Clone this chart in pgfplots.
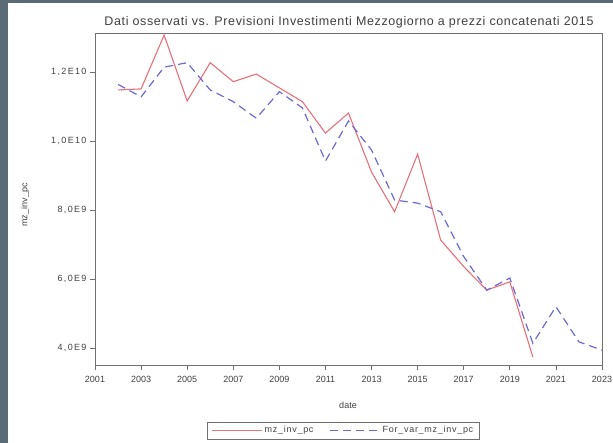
\documentclass[border=0pt]{standalone}
\usepackage{fontspec}
\setmainfont{Liberation Sans}
\usepackage{pgfplots}
\usepackage{pgfplotstable}
\pgfplotsset{compat=1.18}

\definecolor{frame}{HTML}{5B6B75}
\definecolor{obsred}{HTML}{E8707A}
\definecolor{fcblue}{HTML}{6A6AD2}
\definecolor{axgray}{HTML}{707070}
\definecolor{txtgray}{HTML}{404040}

% observed series
\pgfplotstableread{
year val
2002 1.148e10
2003 1.151e10
2004 1.307e10
2005 1.116e10
2006 1.227e10
2007 1.172e10
2008 1.194e10
2009 1.154e10
2010 1.114e10
2011 1.023e10
2012 1.081e10
2013 0.910e10
2014 0.795e10
2015 0.962e10
2016 0.713e10
2017 0.636e10
2018 0.568e10
2019 0.592e10
2020 0.374e10
}\observed

% forecast series
\pgfplotstableread{
year val
2002 1.164e10
2003 1.128e10
2004 1.214e10
2005 1.227e10
2006 1.148e10
2007 1.114e10
2008 1.066e10
2009 1.143e10
2010 1.096e10
2011 0.942e10
2012 1.058e10
2013 0.974e10
2014 0.829e10
2015 0.820e10
2016 0.795e10
2017 0.665e10
2018 0.568e10
2019 0.603e10
2020 0.414e10
2021 0.520e10
2022 0.418e10
2023 0.394e10
}\forecast

\begin{document}
\begin{tikzpicture}
\fill[frame] (0,0) rectangle (613pt,443pt);
\fill[white] (8pt,0) rectangle (613pt,440pt);

\begin{axis}[
    at={(95pt,78pt)}, anchor=south west,
    width=507pt, height=332pt, scale only axis,
    xmin=2001, xmax=2023, ymin=3.51e9, ymax=13.13e9,
    scaled y ticks=false,
    axis line style={axgray, line width=0.8pt},
    xtick={2001,2003,2005,2007,2009,2011,2013,2015,2017,2019,2021,2023},
    xticklabels={2001,2003,2005,2007,2009,2011,2013,2015,2017,2019,2021,2023},
    ytick={4e9,6e9,8e9,10e9,12e9},
    yticklabels={{4,0E9},{6,0E9},{8,0E9},{1,0E10},{1,2E10}},
    tick align=outside, tick pos=left,
    major tick length=5pt,
    tick style={axgray, line width=0.8pt},
    ticklabel style={font=\fontsize{9}{10}\selectfont, text=txtgray},
    yticklabel style={font=\addfontfeatures{LetterSpace=15}\fontsize{9}{10}\selectfont},
    xticklabel style={yshift=-3pt},
    legend style={at={(0.49,-0.197)}, anchor=center, legend columns=2,
        draw=axgray, line width=0.6pt,
        font=\addfontfeatures{LetterSpace=8}\fontsize{9}{10}\selectfont,
        text=txtgray, inner ysep=2.5pt, inner xsep=4pt,
        /tikz/every even column/.append style={column sep=14pt}},
    legend image code/.code={\draw[#1] (0pt,0pt) -- (50pt,0pt);},
]
\addplot[obsred, line width=1.1pt] table[x=year, y=val] {\observed};
\addlegendentry{mz\_inv\_pc}
\addplot[fcblue, line width=1.2pt, dash pattern=on 8pt off 5pt] table[x=year, y=val] {\forecast};
\addlegendentry{For\_var\_mz\_inv\_pc}
\end{axis}

\node[text=txtgray, font=\addfontfeatures{LetterSpace=5}\fontsize{12.5}{14}\selectfont] at (349pt,421pt)
    {Dati osservati vs. Previsioni Investimenti Mezzogiorno a prezzi concatenati 2015};
\node[text=txtgray, rotate=90, font=\fontsize{9}{10}\selectfont] at (25pt,238pt) {mz\_inv\_pc};
\node[text=txtgray, font=\fontsize{9}{10}\selectfont] at (348pt,38pt) {date};

\pgfresetboundingbox
\useasboundingbox (0,0) rectangle (613pt,443pt);
\end{tikzpicture}
\end{document}
